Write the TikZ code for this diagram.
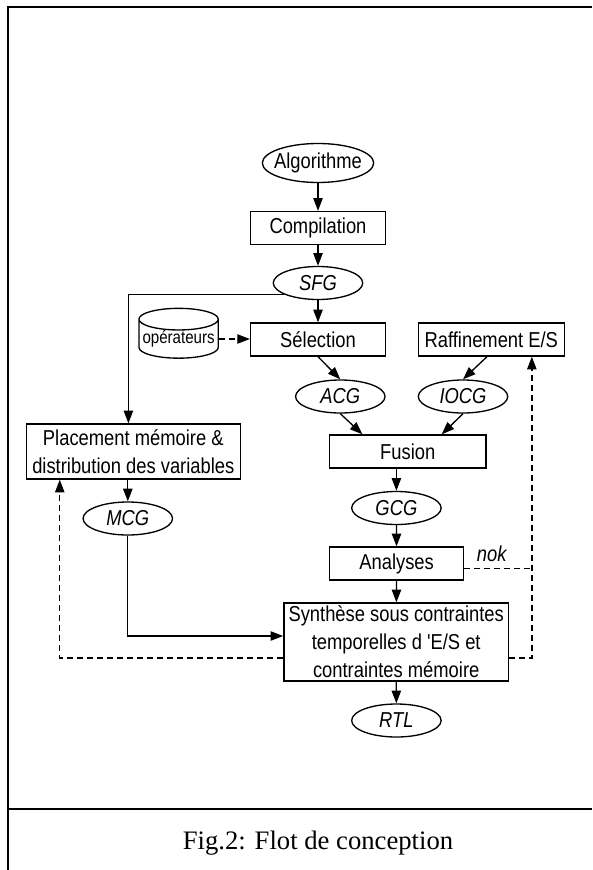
\documentclass[tikz,border=0pt]{standalone}
\usepackage{fontspec}
\usetikzlibrary{shapes.geometric,arrows.meta,calc}

\newfontfamily\diagfont[FakeStretch=0.85]{Liberation Sans}
\newfontfamily\capfont{Liberation Serif}

\tikzset{
box/.style={draw, rectangle, inner sep=0pt, minimum width=101.1pt, minimum height=24.75pt,
            align=center, font=\diagfont\fontsize{16.2pt}{21pt}\selectfont},
oval/.style={draw, ellipse, inner sep=0pt, minimum width=67.1pt, minimum height=24.75pt,
            font=\diagfont\fontsize{16.2pt}{21pt}\selectfont\itshape},
store/.style={draw, cylinder, shape border rotate=90, aspect=0.3, inner sep=0pt,
            minimum width=59.5pt, minimum height=33.75pt,
            font=\diagfont\fontsize{13.3pt}{15pt}\selectfont},
arr/.style={-{Triangle[length=9.5pt,width=7pt]}},
dashline/.style={dash pattern={on 4.5pt off 3pt}}}
\tikzset{every picture/.style={line width=1pt}}

\begin{document}
\begin{tikzpicture}[x=0.75pt,y=0.75pt,yscale=-1,xscale=1]

\useasboundingbox (0,0) rectangle (592,870);

% FRAME

\draw [line width=1.5pt] (592,7.5) -- (7.5,7.5) -- (7.5,870);
\draw [line width=1.5pt] (7.5,809) -- (592,809);

% NODES

\node [oval, font=\diagfont\fontsize{16.2pt}{21pt}\selectfont, inner xsep=-4.5pt,
       minimum width=83.5pt, minimum height=29.25pt] (algo) at (318,163) {Algorithme};
\node [box] (compil) at (318,228) {Compilation};
\node [oval] (sfg) at (318,283) {SFG};
\node [store] (oper) at (178.6,339) {opérateurs};
\node [box] (sel) at (318,339.5) {Sélection};
\node [box, minimum width=109.6pt] (raff) at (491.3,339.5) {Raffinement E/S};
\node [oval] (acg) at (340.3,396.5) {ACG};
\node [oval] (iocg) at (463,396.5) {IOCG};
\node [box, minimum width=117.2pt] (fusion) at (407.7,451.5) {Fusion};
\node [oval] (gcg) at (396.4,508) {GCG};
\node [box, minimum width=100.5pt] (anal) at (396.6,563.5) {Analyses};
\node [box, minimum width=160.3pt, minimum height=41.25pt] (place) at (133.3,451.5)
      {Placement mémoire \&\\distribution des variables};
\node [oval] (mcg) at (127.8,518.5) {MCG};
\node [box, minimum width=168.5pt, minimum height=58.5pt] (synth) at (396.2,642)
      {Synthèse sous contraintes\\temporelles d 'E/S et\\contraintes mémoire};
\node [oval] (rtl) at (396.4,720.5) {RTL};

% EDGES

\draw [arr] (algo) -- (compil);
\draw [arr] (compil) -- (sfg);
\draw [arr] (sfg) -- (sel);
\draw [arr] (sfg.198) -| ($(place.north)+(-4.9,0)$);
\draw [arr, dashline] (oper.east) -- (oper.east -| sel.west);
\draw [arr] (sel.south) -- (acg.north);
\draw [arr] ($(raff.south)+(-4.3,0)$) -- (iocg.north);
\draw [arr] (acg.south) -- ($(fusion.north)+(-45.3,0)$);
\draw [arr] (iocg.south) -- ($(fusion.north)+(34,0)$);
\draw [arr] (gcg.north |- fusion.south) -- (gcg.north);
\draw [arr] (gcg) -- (anal);
\draw [arr] (anal) -- (synth);
\draw [arr] (synth) -- (rtl);
\draw [arr] (mcg.north |- place.south) -- (mcg.north);
\draw [arr] (mcg.south) |- ($(synth.west)+(0,-6)$);

% FEEDBACK

\draw [arr, dashline] ($(synth.west)+(0,16)$) -| ($(place.south west)+(34,0)$);
\draw [arr, dashline] ($(synth.east)+(0,16)$) -| ($(raff.south east)+(-33.2,0)$);
\draw [dashline] ($(anal.east)+(0,5)$) -- ++(67.6,0);

% LABELS

\node [font=\diagfont\fontsize{16.2pt}{21pt}\selectfont\itshape] (nok) at (491.7,554) {nok};
\node [font=\capfont\fontsize{20pt}{24pt}\selectfont] (caption) at (318,843)
      {Fig.2: Flot de conception};

\end{tikzpicture}
\end{document}
